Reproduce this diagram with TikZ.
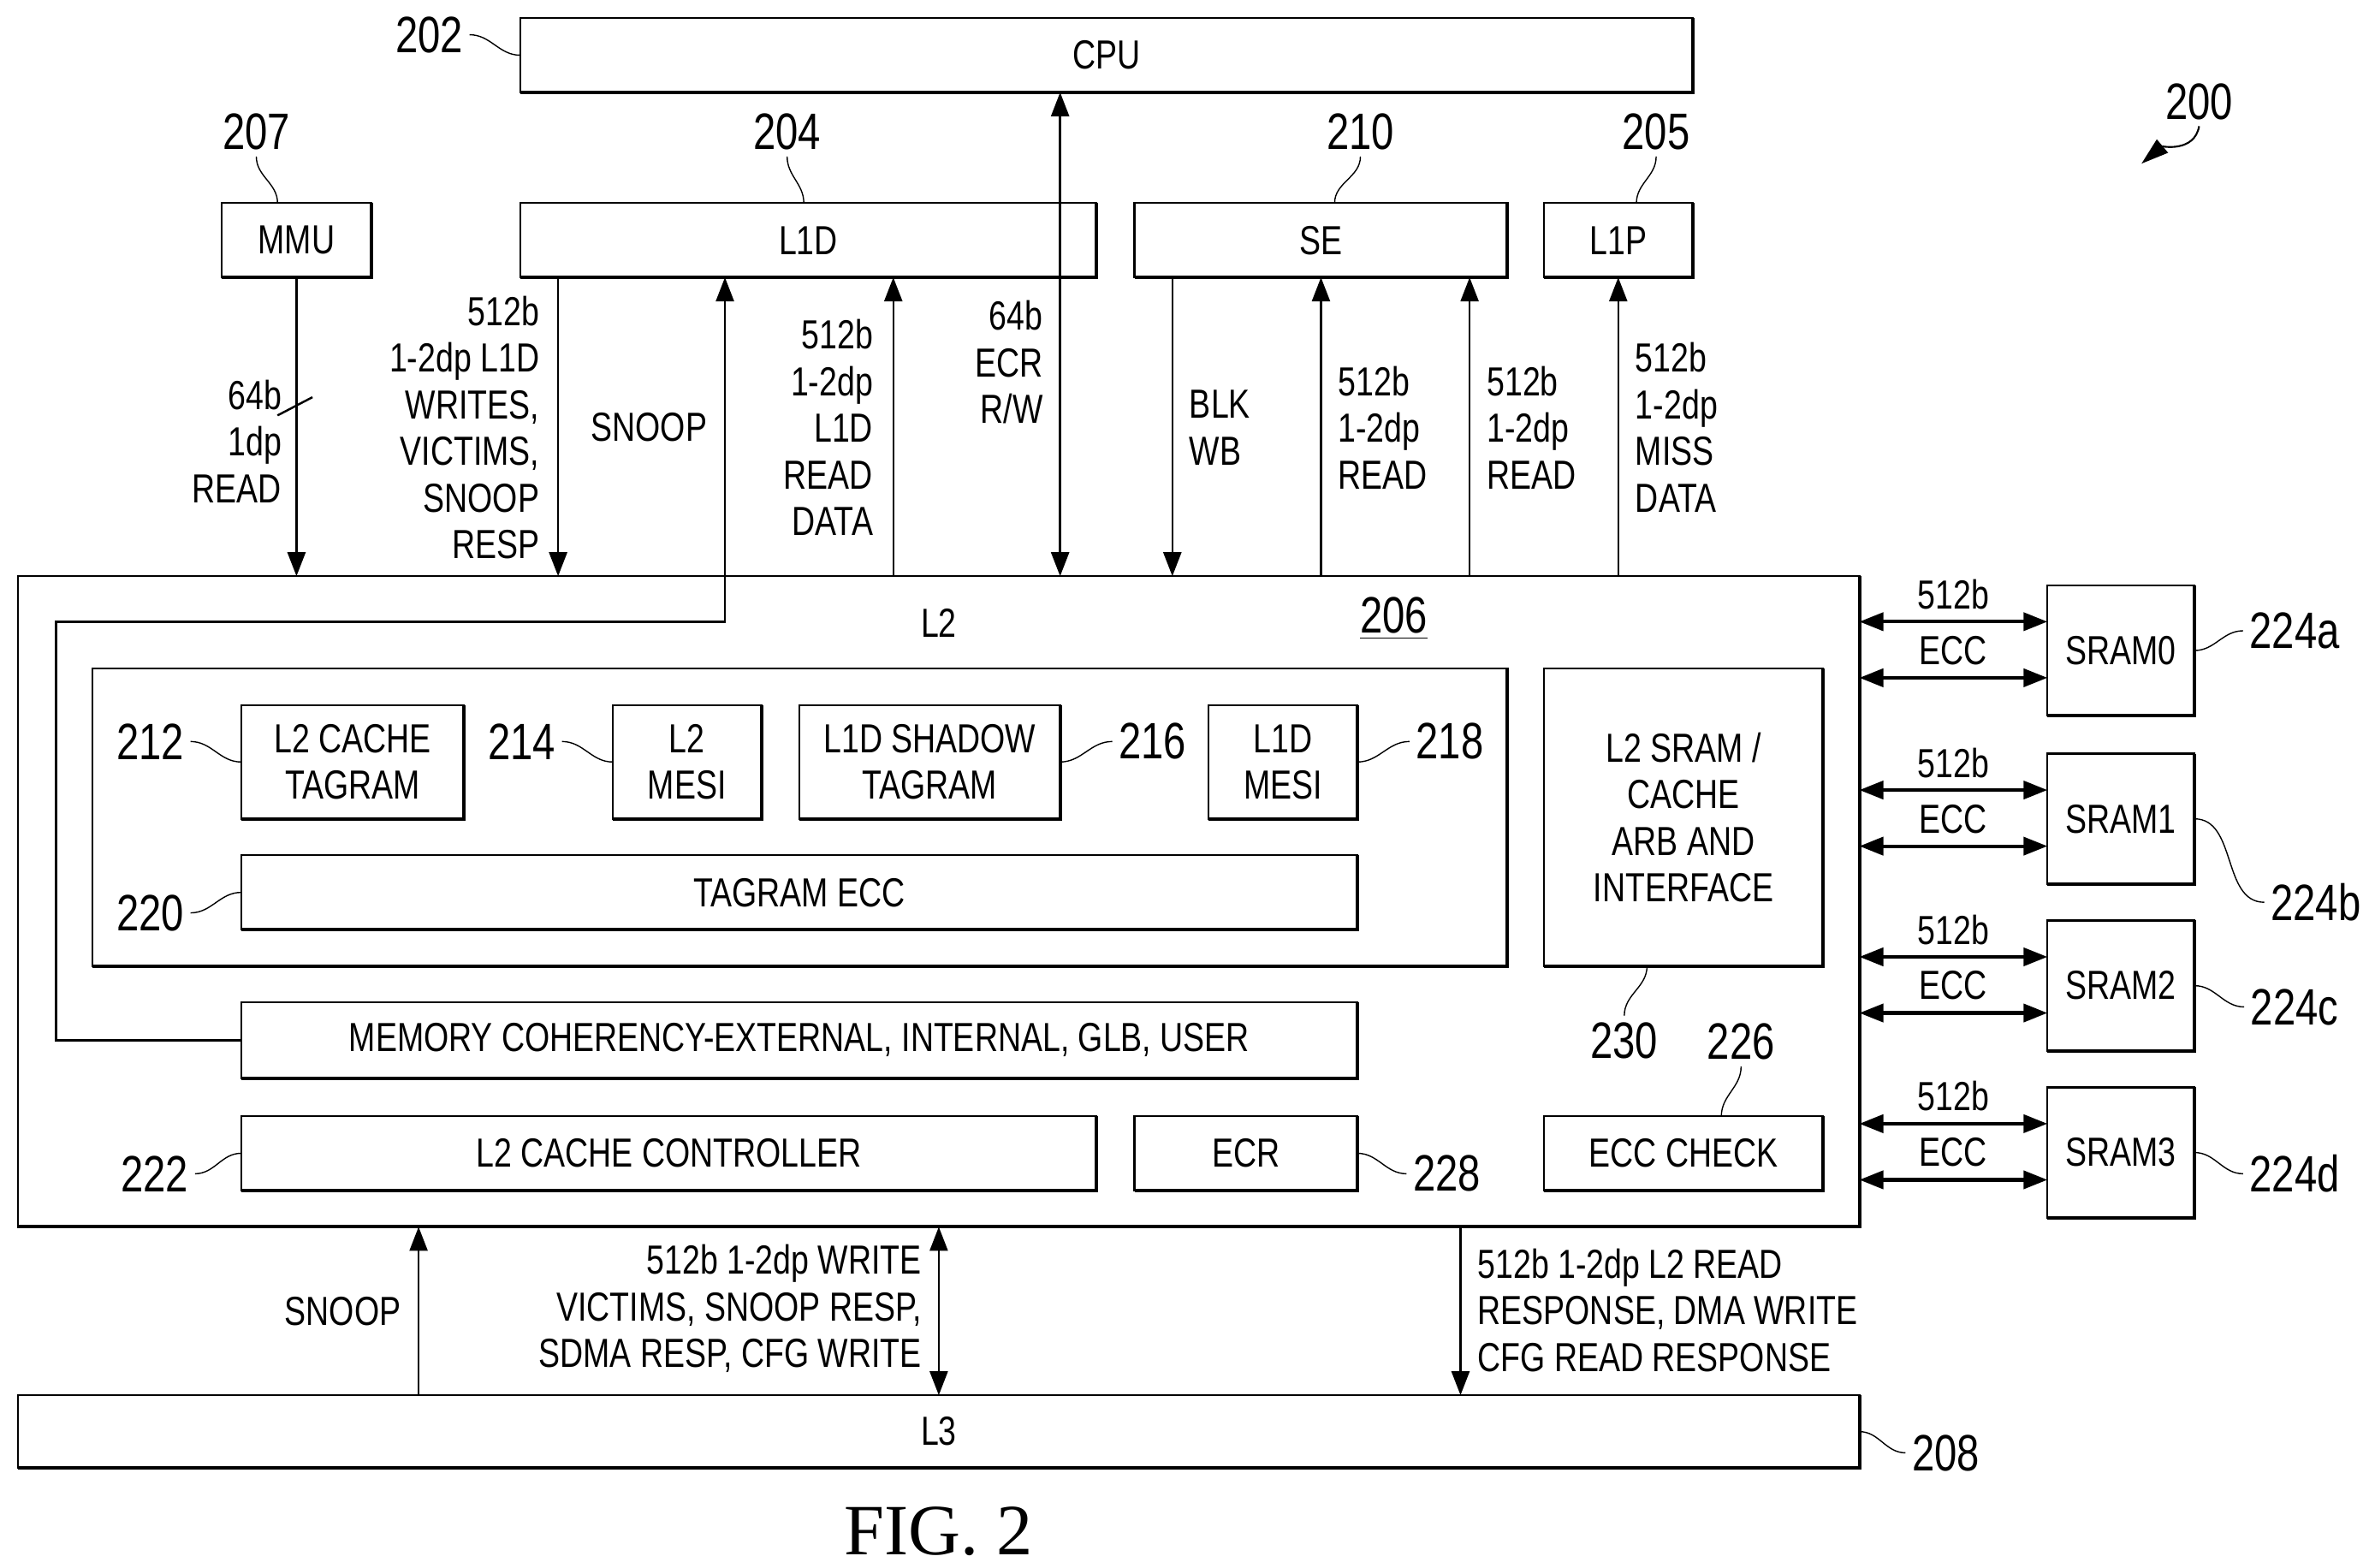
\documentclass[tikz,border=0pt]{standalone}
\usepackage{fontspec}
\setmainfont{Liberation Sans}[FakeStretch=0.79]
\newfontfamily\figfont{Liberation Serif}
\usepackage{tikz}
\usetikzlibrary{arrows.meta}

\tikzset{
    blk/.style={draw, line width=0.65pt, inner sep=0pt, outer sep=0pt, align=center},
    heavy/.style={line width=1.15pt},
    wire/.style={line width=0.7pt, >={Triangle[length=2.8mm, width=2.1mm]}},
    bus/.style={line width=1.2pt, >={Triangle[length=2.8mm, width=2.1mm]}},
    lead/.style={line width=0.4pt},
    refnum/.style={font=\fontsize{17}{20}\selectfont, inner sep=2pt},
    tag/.style={inner sep=0pt, align=right, anchor=east},
    tagl/.style={inner sep=0pt, align=left, anchor=west}
}

% box from its corners: name, x1, y1, x2, y2, text
\newcommand{\blkbox}[6]{
    \node[blk, minimum width={(#4-#2)*0.01772cm}, minimum height={(#5-#3)*0.01772cm}] (#1) at ({(#2+#4)/2},{(#3+#5)/2}) {#6};
    \draw[heavy] (#1.north east) -- (#1.south east) -- (#1.south west);
}

\begin{document}
\begin{tikzpicture}[x=0.01772cm, y=-0.01772cm, every node/.style={font=\fontsize{13.5}{15.5}\selectfont}]
    \useasboundingbox (0,0.1) rectangle ++(1566,1033.8);

    % Top row
    \blkbox{cpu}{343}{12}{1116}{61}{CPU}
    \blkbox{mmu}{146}{134}{245}{183}{MMU}
    \blkbox{lid}{343}{134}{723}{183}{L1D}
    \blkbox{se}{748}{134}{994}{183}{SE}
    \blkbox{lip}{1018}{134}{1116}{183}{L1P}

    % L2 and L3
    \blkbox{ltwo}{12}{380}{1226}{809}{}
    \blkbox{lthree}{12}{920}{1226}{968}{L3}
    \node (ltwotxt) at (619,411) {L2};
    \node (num206) at (919,408) [refnum] {\underline{206}};

    % Inside L2
    \blkbox{group}{61}{441}{994}{637}{}
    \blkbox{tagram}{159}{465}{306}{540}{L2 CACHE\\TAGRAM}
    \blkbox{mesi}{404}{465}{502}{540}{L2\\MESI}
    \blkbox{shadow}{527}{465}{699}{540}{L1D SHADOW\\TAGRAM}
    \blkbox{lidmesi}{797}{465}{895}{540}{L1D\\MESI}
    \blkbox{tagecc}{159}{564}{895}{613}{TAGRAM ECC}
    \blkbox{memco}{159}{661}{895}{711}{MEMORY COHERENCY-EXTERNAL, INTERNAL, GLB, USER}
    \blkbox{ctrl}{159}{736}{723}{785}{L2 CACHE CONTROLLER}
    \blkbox{ecr}{748}{736}{895}{785}{ECR}
    \blkbox{ecc}{1018}{736}{1202}{785}{ECC CHECK}
    \blkbox{arb}{1018}{441}{1202}{637}{L2 SRAM /\\CACHE\\ARB AND\\INTERFACE}

    % SRAMs and their buses
    \foreach \i/\t in {0/386, 1/497, 2/607, 3/717} {
        \blkbox{sram\i}{1350}{\t}{1447}{\t+86}{SRAM\i}
        \draw[bus, <->] (1350,\t+24 -| ltwo.east) -- (1350,\t+24 -| sram\i.west);
        \draw[bus, <->] (1350,\t+61 -| ltwo.east) -- (1350,\t+61 -| sram\i.west);
        \node (busw\i) at (1288,\t+6) {512b};
        \node (busc\i) at (1288,\t+43) {ECC};
    }

    % Connectors on top of L2
    \draw[wire, ->] (mmu.south) -- (mmu.south |- ltwo.north);
    \draw[wire, ->] (368,0 |- lid.south) -- (368,0 |- ltwo.north);
    \draw[wire, ->] (memco.west) -- (37,0 |- memco.west) -- (37,410) -- (478,410) -- (478,0 |- lid.south);
    \draw[wire, ->] (589,0 |- ltwo.north) -- (589,0 |- lid.south);
    \draw[wire, <->] (699,0 |- cpu.south) -- (699,0 |- ltwo.north);
    \draw[wire, ->] (773,0 |- se.south) -- (773,0 |- ltwo.north);
    \draw[wire, ->] (871,0 |- ltwo.north) -- (871,0 |- se.south);
    \draw[wire, ->] (969,0 |- ltwo.north) -- (969,0 |- se.south);
    \draw[wire, ->] (lip.south |- ltwo.north) -- (lip.south);

    % Connectors to L3
    \draw[wire, ->] (276,0 |- lthree.north) -- (276,0 |- ltwo.south);
    \draw[wire, <->] (619,0 |- ltwo.south) -- (619,0 |- lthree.north);
    \draw[wire, ->] (963,0 |- ltwo.south) -- (963,0 |- lthree.north);

    % Width mark on the MMU line
    \coordinate (slashA) at (183,274);
    \coordinate (slashB) at (206,262);
    \draw[wire] (slashA) -- (slashB);

    % Connector labels
    \node[tag] (t64) at (186,291) {64b\\1dp\\READ};
    \node[tag] (tlidw) at (356,282) {512b\\1-2dp L1D\\WRITES,\\VICTIMS,\\SNOOP\\RESP};
    \node (tsnoop) at (428,282) {SNOOP};
    \node[tag] (tlidr) at (576,282) {512b\\1-2dp\\L1D\\READ\\DATA};
    \node[tag] (tecr) at (688,239) {64b\\ECR\\R/W};
    \node[tagl] (tblk) at (784,282) {BLK\\WB};
    \node[tagl] (tsea) at (882,282) {512b\\1-2dp\\READ};
    \node[tagl] (tseb) at (980,282) {512b\\1-2dp\\READ};
    \node[tagl] (tmiss) at (1078,282) {512b\\1-2dp\\MISS\\DATA};
    \node (tsnoopb) at (226,865) {SNOOP};
    \node[tag] (twrite) at (608,863) {512b 1-2dp WRITE\\VICTIMS, SNOOP RESP,\\SDMA RESP, CFG WRITE};
    \node[tagl] (tread) at (974,864) {512b 1-2dp L2 READ\\RESPONSE, DMA WRITE\\CFG READ RESPONSE};

    % Reference numbers with their leaders
    \node[refnum] (n202) at (283,23) {202};
    \draw[lead] (n202.east) to[out=0, in=180] (cpu.west);
    \node[refnum] (n207) at (169,87) {207};
    \draw[lead] (n207.south) to[out=-90, in=90] (183,0 |- mmu.north);
    \node[refnum] (n204) at (519,87) {204};
    \draw[lead] (n204.south) to[out=-90, in=90] (530,0 |- lid.north);
    \node[refnum] (n210) at (897,87) {210};
    \draw[lead] (n210.south) to[out=-90, in=90] (880,0 |- se.north);
    \node[refnum] (n205) at (1092,87) {205};
    \draw[lead] (n205.south) to[out=-90, in=90] (1079,0 |- lip.north);
    \node[refnum] (n212) at (99,489) {212};
    \draw[lead] (n212.east) to[out=0, in=180] (tagram.west);
    \node[refnum] (n214) at (344,489) {214};
    \draw[lead] (n214.east) to[out=0, in=180] (mesi.west);
    \node[refnum] (n216) at (760,489) {216};
    \draw[lead] (n216.west) to[out=180, in=0] (shadow.east);
    \node[refnum] (n218) at (956,489) {218};
    \draw[lead] (n218.west) to[out=180, in=0] (lidmesi.east);
    \node[refnum] (n220) at (99,602) {220};
    \draw[lead] (n220.east) to[out=0, in=180] (tagecc.west);
    \node[refnum] (n222) at (102,774) {222};
    \draw[lead] (n222.east) to[out=0, in=180] (ctrl.west);
    \node[refnum] (n228) at (954,774) {228};
    \draw[lead] (n228.west) to[out=180, in=0] (ecr.east);
    \node[refnum] (n230) at (1071,686) {230};
    \draw[lead] (n230.north) to[out=90, in=-90] (1086,0 |- arb.south);
    \node[refnum] (n226) at (1148,687) {226};
    \draw[lead] (n226.south) to[out=-90, in=90] (1135,0 |- ecc.north);
    \node[refnum] (n208) at (1283,958) {208};
    \draw[lead] (n208.west) to[out=180, in=0] (lthree.east);
    \node[refnum] (n224a) at (1513,416) {224a};
    \draw[lead] (n224a.west) to[out=180, in=0] (sram0.east);
    \node[refnum] (n224b) at (1527,595) {224b};
    \draw[lead] (n224b.west) to[out=180, in=0] (sram1.east);
    \node[refnum] (n224c) at (1513,664) {224c};
    \draw[lead] (n224c.west) to[out=180, in=0] (sram2.east);
    \node[refnum] (n224d) at (1513,774) {224d};
    \draw[lead] (n224d.west) to[out=180, in=0] (sram3.east);

    % Figure number and its arrow
    \node[refnum] (n200) at (1450,67) {200};
    \coordinate (tip200) at (1412,108);
    \draw[lead, line width=0.6pt, -{Triangle[length=3.2mm, width=2mm]}] (n200.south) to[out=-100, in=40] (tip200);
    \node[inner sep=0pt] (figno) at (619,1010) {\figfont\fontsize{24}{27}\selectfont FIG. 2};
\end{tikzpicture}
\end{document}
